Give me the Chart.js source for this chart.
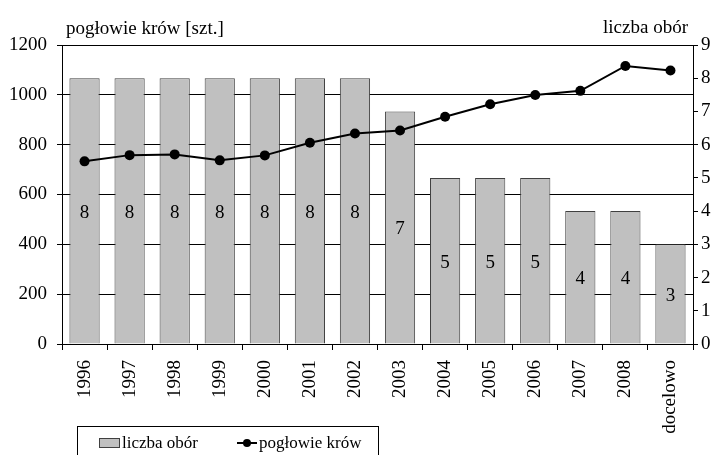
<!DOCTYPE html>
<html>
<head>
<meta charset="utf-8">
<script src="https://cdn.jsdelivr.net/npm/chart.js@4/dist/chart.umd.min.js"></script>
<style>
body{margin:0;background:#fff;overflow:hidden}
</style>
</head>
<body>
<canvas id="c" width="715" height="455"></canvas>
<script>
// data
var years=["1996","1997","1998","1999","2000","2001","2002","2003","2004","2005","2006","2007","2008","docelowo"];
var obory=[8,8,8,8,8,8,8,7,5,5,5,4,4,3];
var krowy=[733,758,761,737,757,808,845,857,912,962,999,1016,1116,1098];
var leftTicks=[0,200,400,600,800,1000,1200];
var rightTicks=[0,1,2,3,4,5,6,7,8,9];

var serif="'Liberation Serif','Times New Roman',serif";
var gray="#c0c0c0";

var barLabels={
  id:"barLabels",
  afterDatasetsDraw:function(chart){
    var ctx=chart.ctx,meta=chart.getDatasetMeta(0);
    ctx.save();
    ctx.font="19px "+serif;
    ctx.fillStyle="#000";
    ctx.textAlign="center";ctx.textBaseline="middle";
    meta.data.forEach(function(b,i){
      ctx.fillText(obory[i],b.x,(b.y+b.base)/2+2);
    });
    ctx.restore();
  }
};

var extras={
  id:"extras",
  afterDraw:function(chart){
    var ctx=chart.ctx;
    ctx.save();
    ctx.fillStyle="#000";
    ctx.font="19px "+serif;
    ctx.textBaseline="alphabetic";
    ctx.textAlign="left";
    ctx.fillText("pogłowie krów [szt.]",66,34);
    ctx.textAlign="right";
    ctx.fillText("liczba obór",688,33);
    // legend
    ctx.strokeStyle="#000";ctx.lineWidth=1;
    ctx.strokeRect(77.5,426.5,301,40);
    ctx.fillStyle=gray;ctx.fillRect(99,438,21,10);
    ctx.strokeStyle="#404040";ctx.strokeRect(99.5,438.5,20,9);
    ctx.fillStyle="#000";ctx.font="17px "+serif;ctx.textAlign="left";
    ctx.fillText(chart.data.datasets[0].label,122,448);
    ctx.strokeStyle="#000";ctx.lineWidth=2;
    ctx.beginPath();ctx.moveTo(237,443);ctx.lineTo(257,443);ctx.stroke();
    ctx.beginPath();ctx.arc(247,443,4,0,Math.PI*2);ctx.fill();
    ctx.fillText(chart.data.datasets[1].label,259,448);
    ctx.restore();
  }
};

function plain(v){return String(v);}

new Chart(document.getElementById("c"),{
  data:{
    labels:years,
    datasets:[
      {type:"bar",label:"liczba obór",data:obory,yAxisID:"y1",order:2,
       backgroundColor:gray,borderColor:"#404040",borderWidth:1,
       categoryPercentage:1,barPercentage:0.67},
      {type:"line",label:"pogłowie krów",data:krowy,yAxisID:"y",order:1,
       borderColor:"#000",backgroundColor:"#000",borderWidth:2,
       pointRadius:5,pointBackgroundColor:"#000",pointBorderWidth:0,tension:0}
    ]
  },
  options:{
    responsive:false,animation:false,
    layout:{padding:{top:45,bottom:0,left:0,right:0}},
    plugins:{legend:{display:false},tooltip:{enabled:false}},
    scales:{
      x:{
        grid:{drawOnChartArea:false,drawTicks:true,tickLength:6,color:"#000",offset:true},
        border:{color:"#000",width:1},
        ticks:{color:"#000",font:{family:serif,size:19},minRotation:90,maxRotation:90,padding:10,autoSkip:false},
        afterFit:function(s){s.height=111;}
      },
      y:{
        position:"left",min:0,max:1200,
        afterBuildTicks:function(s){s.ticks=leftTicks.map(function(v){return {value:v};});},
        grid:{color:"#000",lineWidth:1,tickLength:5,drawTicks:true},
        border:{color:"#000",width:1},
        ticks:{color:"#000",font:{family:serif,size:19},padding:10,callback:plain},
        afterFit:function(s){s.width=62;}
      },
      y1:{
        position:"right",min:0,max:9,
        afterBuildTicks:function(s){s.ticks=rightTicks.map(function(v){return {value:v};});},
        grid:{drawOnChartArea:false,drawTicks:true,tickLength:5,color:"#000"},
        border:{color:"#000",width:1},
        ticks:{color:"#000",font:{family:serif,size:19},padding:3,callback:plain},
        afterFit:function(s){s.width=22;}
      }
    }
  },
  plugins:[barLabels,extras]
});
</script>
</body>
</html>
